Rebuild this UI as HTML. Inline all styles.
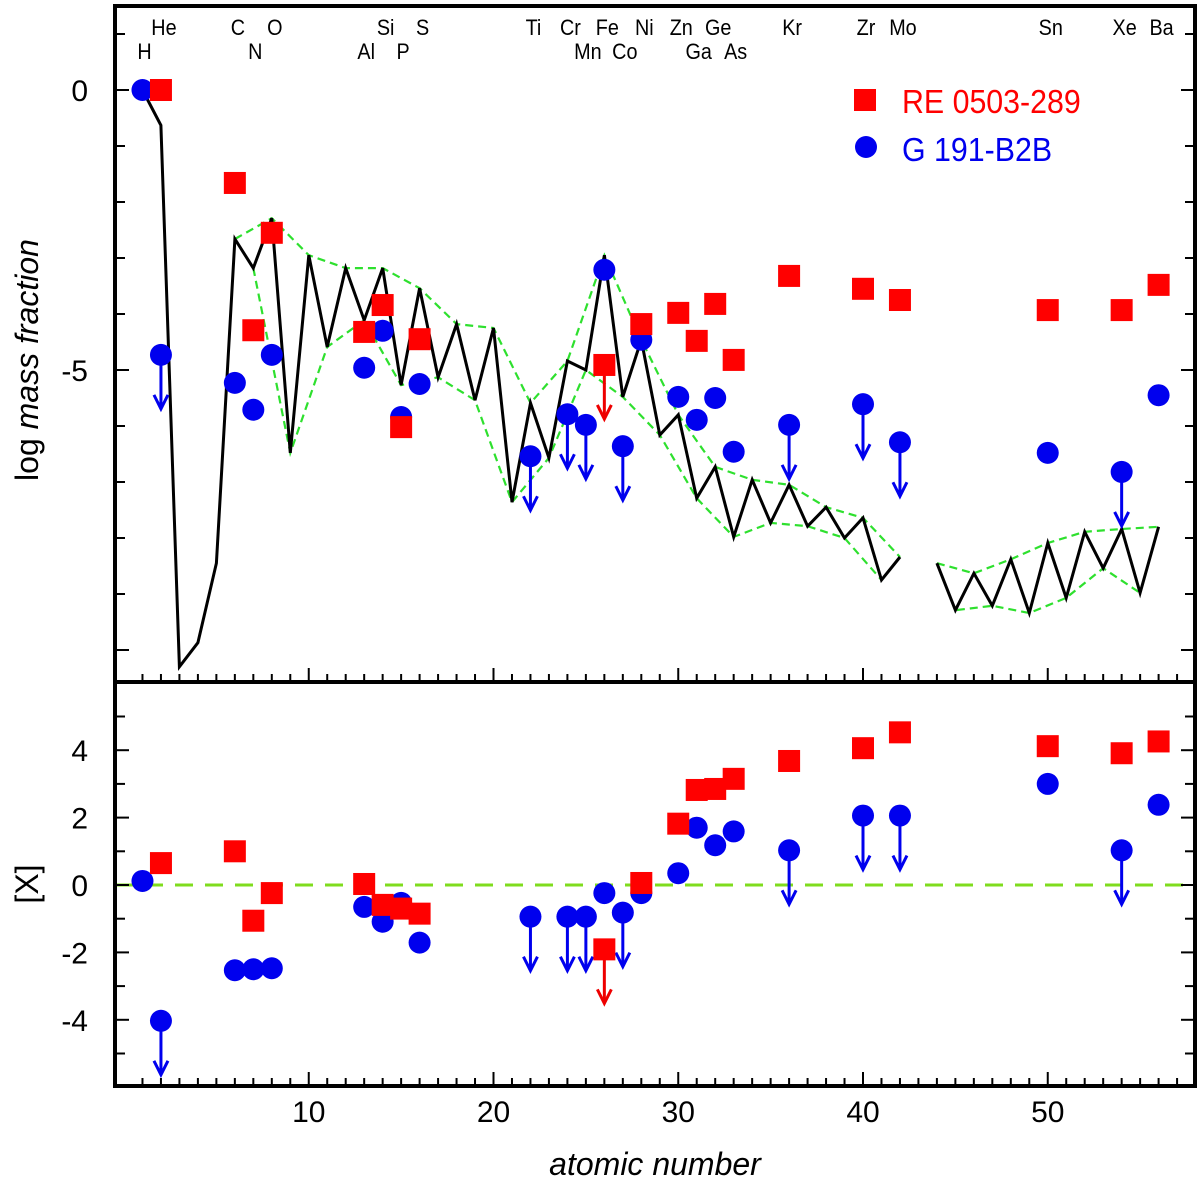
<!DOCTYPE html>
<html><head><meta charset="utf-8"><style>
html,body{margin:0;padding:0;background:#fff;}
svg{display:block;font-family:"Liberation Sans",Arial,sans-serif;}
</style></head><body>
<svg id="chart" width="1200" height="1190" viewBox="0 0 1200 1190" xmlns="http://www.w3.org/2000/svg">
<g id="marks"></g>
</svg>
<script>
const solarZ = [1,2,3,4,5,6,7,8,9,10,11,12,13,14,15,16,17,18,19,20,21,22,23,24,25,26,27,28,29,30,31,32,33,34,35,36,37,38,39,40,41,42];
const solarVal = [0,-0.63,-10.3,-9.87,-8.45,-2.66,-3.18,-2.29,-6.48,-2.95,-4.59,-3.18,-4.11,-3.18,-5.27,-3.54,-5.13,-4.18,-5.54,-4.25,-7.36,-5.59,-6.57,-4.84,-5.0,-2.95,-5.48,-4.46,-6.16,-5.80,-7.29,-6.73,-7.98,-6.96,-7.73,-7.05,-7.79,-7.45,-8.0,-7.64,-8.75,-8.34];
const solarZ2 = [44,45,46,47,48,49,50,51,52,53,54,55,56];
const solarVal2 = [-8.45,-9.29,-8.63,-9.21,-8.38,-9.34,-8.09,-9.07,-7.89,-8.54,-7.84,-8.98,-7.80];
const upperZ = [6,8,10,12,14,16,18,20,22,24,26,28,30,32,34,36,38,40,42];
const lowerZ = [7,9,11,13,15,17,19,21,23,25,27,29,31,33,35,37,39,41,42];
const upperZ2 = [44,46,48,50,52,54,56];
const lowerZ2 = [44,45,47,49,51,53,55,56];

const reZ = [2,6,7,8,13,14,15,16,26,28,30,31,32,33,36,40,42,50,54,56];
const reMass = [0,-1.66,-4.29,-2.55,-4.32,-3.84,-6.02,-4.45,-4.91,-4.18,-3.98,-4.48,-3.82,-4.82,-3.32,-3.55,-3.75,-3.93,-3.93,-3.48];
const reRel = [0.65,1.0,-1.06,-0.24,0.03,-0.59,-0.7,-0.85,-1.91,0.06,1.82,2.82,2.85,3.15,3.68,4.06,4.53,4.12,3.91,4.26];
const reLimit = [26];

const gZ = [1,2,6,7,8,13,14,15,16,22,24,25,26,27,28,30,31,32,33,36,40,42,50,54,56];
const gMass = [0,-4.73,-5.23,-5.71,-4.73,-4.96,-4.30,-5.84,-5.25,-6.54,-5.79,-5.98,-3.21,-6.36,-4.46,-5.48,-5.89,-5.5,-6.46,-5.98,-5.61,-6.29,-6.48,-6.82,-5.45];
const gRel = [0.12,-4.03,-2.53,-2.5,-2.47,-0.65,-1.09,-0.53,-1.71,-0.94,-0.94,-0.94,-0.24,-0.82,-0.24,0.35,1.7,1.18,1.59,1.03,2.06,2.06,3.0,1.03,2.38];
const gLimit = [2,22,24,25,27,36,40,42,54];

const elemTop = [["He",2],["C",6],["O",8],["Si",14],["S",16],["Ti",22],["Cr",24],["Fe",26],["Ni",28],["Zn",30],["Ge",32],["Kr",36],["Zr",40],["Mo",42],["Sn",50],["Xe",54],["Ba",56]];
const elemBot = [["H",1],["N",7],["Al",13],["P",15],["Mn",25],["Co",27],["Ga",31],["As",33]];
const xTicks = [10,20,30,40,50];
const topTicks = [0,-5];
const botTicks = [4,2,0,-2,-4];

const L=115, R=1195, T=6, MID=682, B=1086;
const X = z => 124 + 18.475*z;
const Y1 = v => 90 - 56*v;
const Y2 = v => 885 - 33.7*v;
const NS="http://www.w3.org/2000/svg";
const g = document.getElementById('marks');
function mk(tag, attrs, parent){const e=document.createElementNS(NS,tag);for(const k in attrs)e.setAttribute(k,attrs[k]);(parent||g).appendChild(e);return e;}
function txt(s,x,y,attrs){const e=mk('text',Object.assign({x:x,y:y},attrs));e.textContent=s;return e;}

let zl=mk('line',{x1:L,x2:R,y1:Y2(0),y2:Y2(0),stroke:'#7fdc1e','stroke-width':3,'stroke-dasharray':'18 12'});



function poly(zs,vals,name,attrs){const p=zs.map((z,i)=>X(z).toFixed(1)+','+Y1(vals[i]).toFixed(1)).join(' ');const e=mk('polyline',Object.assign({points:p,fill:'none'},attrs));return e;}
function solarAt(z){let i=solarZ.indexOf(z);if(i>=0)return solarVal[i];return solarVal2[solarZ2.indexOf(z)];}
const envStyle={stroke:'#2ee02e','stroke-width':2.2,'stroke-dasharray':'8 5'};
poly(upperZ,upperZ.map(solarAt),'solar-upper-envelope',envStyle);
poly(lowerZ,lowerZ.map(solarAt),'solar-lower-envelope',envStyle);
poly(upperZ2,upperZ2.map(solarAt),'solar-upper-envelope-heavy',envStyle);
poly(lowerZ2,lowerZ2.map(solarAt),'solar-lower-envelope-heavy',envStyle);
const solStyle={stroke:'#000','stroke-width':3,'stroke-linejoin':'miter'};
poly(solarZ,solarVal,'solar-abundance-line',solStyle);
poly(solarZ2,solarVal2,'solar-abundance-line-heavy',solStyle);

function arrow(x,y,color,name){
  const e=mk('g',{});
  
  
  mk('line',{x1:x,x2:x,y1:y,y2:y+52,stroke:color,'stroke-width':3},e);
  mk('polyline',{points:(x-7)+','+(y+40)+' '+x+','+(y+54)+' '+(x+7)+','+(y+40),fill:'none',stroke:color,'stroke-width':3},e);
}
function circles(vals,Yf,panel){
  gZ.forEach((z,i)=>{
    if(gLimit.includes(z)) arrow(X(z),Yf(vals[i]),'#0000ee','g191-limit-arrow-'+panel);
    const c=mk('circle',{cx:X(z),cy:Yf(vals[i]),r:11,fill:'#0000ee'});
    
    
  });
}
function squares(vals,Yf,panel){
  reZ.forEach((z,i)=>{
    if(reLimit.includes(z)) arrow(X(z),Yf(vals[i]),'#ee0000','re0503-limit-arrow-'+panel);
    const s=mk('rect',{x:X(z)-11,y:Yf(vals[i])-11,width:22,height:22,fill:'#ff0000'});
    
    
  });
}
circles(gMass,Y1,'top');
squares(reMass,Y1,'top');
circles(gRel,Y2,'bottom');
squares(reRel,Y2,'bottom');

let fr=mk('rect',{x:L,y:T,width:R-L,height:B-T,fill:'none',stroke:'#000','stroke-width':4});


let dv=mk('line',{x1:L,x2:R,y1:MID,y2:MID,stroke:'#000','stroke-width':4});



for(let z=1;z<=58;z++){
  const len = z%10===0?14:8;
  [MID,B].forEach(yb=>{mk('line',{x1:X(z),x2:X(z),y1:yb,y2:yb-len,stroke:'#000','stroke-width':2});});
}
xTicks.forEach(v=>{const t=txt(String(v),X(v),1122,{'font-size':30,'text-anchor':'middle'});});
for(let v=1;v>=-10;v--){const y=Y1(v);const len=(v%5===0)?14:10;
  mk('line',{x1:L,x2:L+len,y1:y,y2:y,stroke:'#000','stroke-width':2});
  mk('line',{x1:R,x2:R-len,y1:y,y2:y,stroke:'#000','stroke-width':2});}
topTicks.forEach(v=>{const t=txt(String(v),88,Y1(v)+11,{'font-size':30,'text-anchor':'end'});});
for(let v=5;v>=-5;v--){const y=Y2(v);const len=(v%2===0)?14:10;
  mk('line',{x1:L,x2:L+len,y1:y,y2:y,stroke:'#000','stroke-width':2});
  mk('line',{x1:R,x2:R-len,y1:y,y2:y,stroke:'#000','stroke-width':2});}
botTicks.forEach(v=>{const t=txt(String(v),88,Y2(v)+11,{'font-size':30,'text-anchor':'end'});});

elemTop.forEach(([s,z])=>{const cx=X(z)+3;const t=txt(s,cx,35,{'font-size':22,'text-anchor':'middle',transform:'translate('+cx+',0) scale(0.9,1) translate('+(-cx)+',0)'});});
elemBot.forEach(([s,z])=>{const cx=X(z)+2;const t=txt(s,cx,59,{'font-size':22,'text-anchor':'middle',transform:'translate('+cx+',0) scale(0.9,1) translate('+(-cx)+',0)'});});
</script>
<svg style="position:absolute;left:0;top:0" width="1200" height="1190">
<g font-family="Liberation Sans, Arial, sans-serif">
<rect x="854" y="89" width="22" height="22" fill="#ff0000"/>
<text x="902" y="113" font-size="33" fill="#ff0000" transform="translate(902,0) scale(0.92,1) translate(-902,0)">RE 0503-289</text>
<circle cx="866" cy="147" r="11" fill="#0000ee"/>
<text x="902" y="161" font-size="33" fill="#0000ee" transform="translate(902,0) scale(0.92,1) translate(-902,0)">G 191-B2B</text>
<text transform="translate(38,360) rotate(-90)" font-size="32" text-anchor="middle">log <tspan font-style="italic">mass fraction</tspan></text>
<text transform="translate(38,884) rotate(-90)" font-size="32" text-anchor="middle">[X]</text>
<text x="655" y="1175" font-size="32" font-style="italic" text-anchor="middle">atomic number</text>
</g>
</svg>
</body></html>
